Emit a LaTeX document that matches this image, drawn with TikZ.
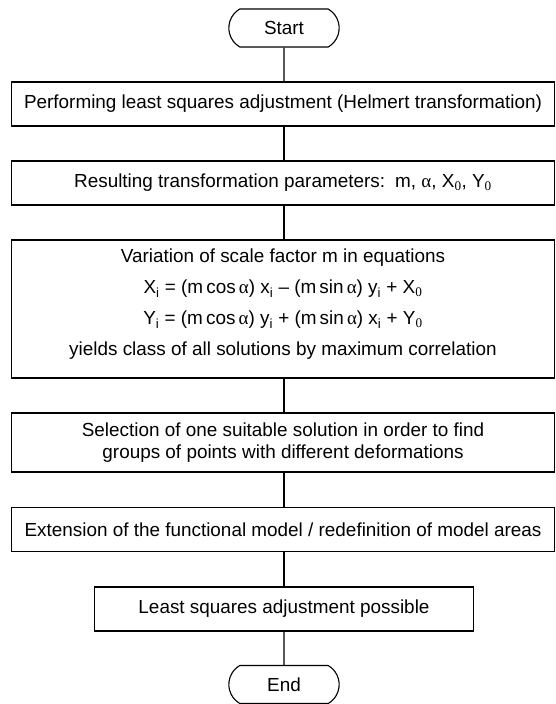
\documentclass[tikz,border=0pt]{standalone}
\usepackage{fontspec}
\setmainfont{Liberation Sans}
\newfontfamily\serif{Liberation Serif}
\usetikzlibrary{shapes.misc}
\newcommand{\sub}[1]{\textsubscript{#1}}
\newcommand{\subz}{\textsubscript{\serif 0}}
\newcommand{\alp}{{\serif α}}

\begin{document}
\begin{tikzpicture}
  [x=1pt, y=-1pt,
   every node/.style={font=\fontsize{18.9}{22}\selectfont, line width=1.1pt},
   term/.style={rounded rectangle, rounded rectangle arc length=120, draw,
     minimum width=117pt, minimum height=38pt},
   proc/.style={rectangle, draw, align=center, minimum width=543pt, minimum height=44pt},
   narrow/.style={minimum width=379pt},
  ]
  \useasboundingbox (0,0) rectangle (555,704);

  \node[term] (start) at (284,28) {Start};
  \node[proc] (helmert) at (283,104) {Performing least squares adjustment (Helmert transformation)};
  \node[proc] (params) at (283,183) {Resulting transformation parameters:\, m, \alp, X\subz, Y\subz};
  \node[proc, minimum height=138pt] (vary) at (283,309) {Variation of scale factor m in equations\\[9pt]
    X\sub{i} = (m\thinspace cos\thinspace\alp) x\sub{i} -- (m\thinspace sin\thinspace\alp) y\sub{i} + X\subz\\[9pt]
    Y\sub{i} = (m\thinspace cos\thinspace\alp) y\sub{i} + (m\thinspace sin\thinspace\alp) x\sub{i} + Y\subz\\[9pt]
    yields class of all solutions by maximum correlation\rule[-13pt]{0pt}{13pt}};
  \node[proc, minimum height=59pt] (select) at (283,442.5) {Selection of one suitable solution in order to find\\
    groups of points with different deformations};
  \node[proc] (extend) at (283,529.5) {Extension of the functional model / redefinition of model areas};
  \node[proc, narrow] (lsq) at (284,609) {Least squares adjustment possible};
  \node[term] (end) at (284,684.5) {End};

  \path[line width=1.1pt]
        (start) edge (start |- helmert.north)
        (helmert.south -| start) edge (start |- params.north)
        (params.south -| start) edge (start |- vary.north)
        (vary.south -| start) edge (start |- select.north)
        (select.south -| start) edge (start |- extend.north)
        (extend.south -| start) edge (lsq)
        (lsq) edge (end);
\end{tikzpicture}
\end{document}
